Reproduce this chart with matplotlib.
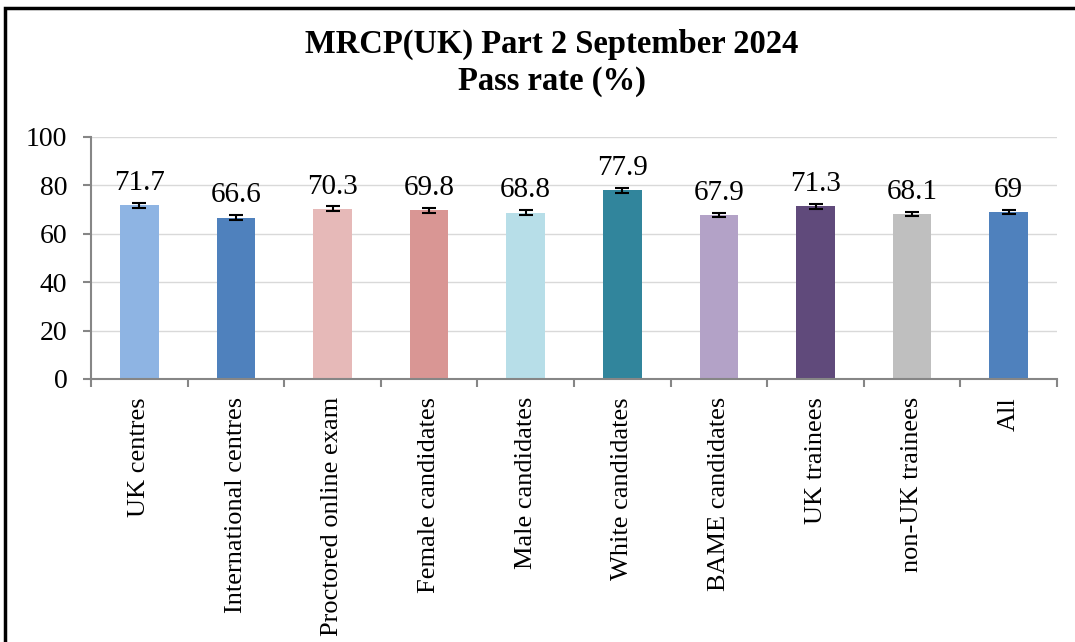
import matplotlib.pyplot as plt
from matplotlib.patches import Rectangle

categories = ['UK centres', 'International centres', 'Proctored online exam',
              'Female candidates', 'Male candidates', 'White candidates',
              'BAME candidates', 'UK trainees', 'non-UK trainees', 'All']
pass_rates = [71.7, 66.6, 70.3, 69.8, 68.8, 77.9, 67.9, 71.3, 68.1, 69]
errors = [1.0, 1.0, 1.0, 1.0, 1.0, 0.9, 0.9, 1.0, 0.9, 0.8]
colors = ['#8EB4E3', '#4F81BD', '#E6B9B8', '#D99694', '#B7DEE8',
          '#31859C', '#B3A2C7', '#604A7B', '#BFBFBF', '#4F81BD']

plt.rcParams['font.family'] = ['Liberation Serif', 'DejaVu Serif']

fig = plt.figure(figsize=(10.75, 6.42), dpi=100)
ax = fig.add_axes([91 / 1075, 1 - 379 / 642, (1057 - 91) / 1075, (379 - 137) / 642])

x = list(range(len(categories)))
ax.bar(x, pass_rates, width=0.4, color=colors, zorder=2)
ax.errorbar(x, pass_rates, yerr=errors, fmt='none', ecolor='black',
            elinewidth=1.5, capsize=5, capthick=1.5, zorder=3)

for xi, v, e in zip(x, pass_rates, errors):
    ax.annotate(f'{v:g}', (xi, v + e), xytext=(0, 5), textcoords='offset points',
                ha='center', va='bottom', fontsize=21)

ax.set_xlim(-0.5, len(categories) - 0.5)
ax.set_ylim(0, 100)
ax.set_yticks([0, 20, 40, 60, 80, 100])
ax.yaxis.grid(True, color='#D9D9D9', linewidth=1, zorder=0)
ax.set_axisbelow(True)

ax.set_xticks([i + 0.5 for i in range(-1, len(categories))], minor=False)
ax.set_xticklabels([])
ax.set_xticks(x, minor=True)
ax.set_xticklabels(categories, minor=True, rotation=90, fontsize=19, va='top')
ax.tick_params(axis='x', which='major', length=6, color='#868686', width=1.5)
ax.tick_params(axis='x', which='minor', length=0, pad=13)
ax.tick_params(axis='y', length=6, color='#868686', width=1.5, labelsize=20, pad=11)

for s in ['top', 'right']:
    ax.spines[s].set_visible(False)
for s in ['left', 'bottom']:
    ax.spines[s].set_color('#868686')
    ax.spines[s].set_linewidth(1.5)

fig.text(552 / 1075, 1 - 63 / 642, 'MRCP(UK) Part 2 September 2024\nPass rate (%)',
         ha='center', va='center', fontsize=23.5, fontweight='bold', linespacing=1.25)

fig.patches.append(Rectangle((5 / 1075, -0.1), 1.2, 1 - 8 / 642 + 0.1,
                             transform=fig.transFigure, fill=False,
                             edgecolor='black', linewidth=2.5))

fig.savefig('out.png', dpi=100)
